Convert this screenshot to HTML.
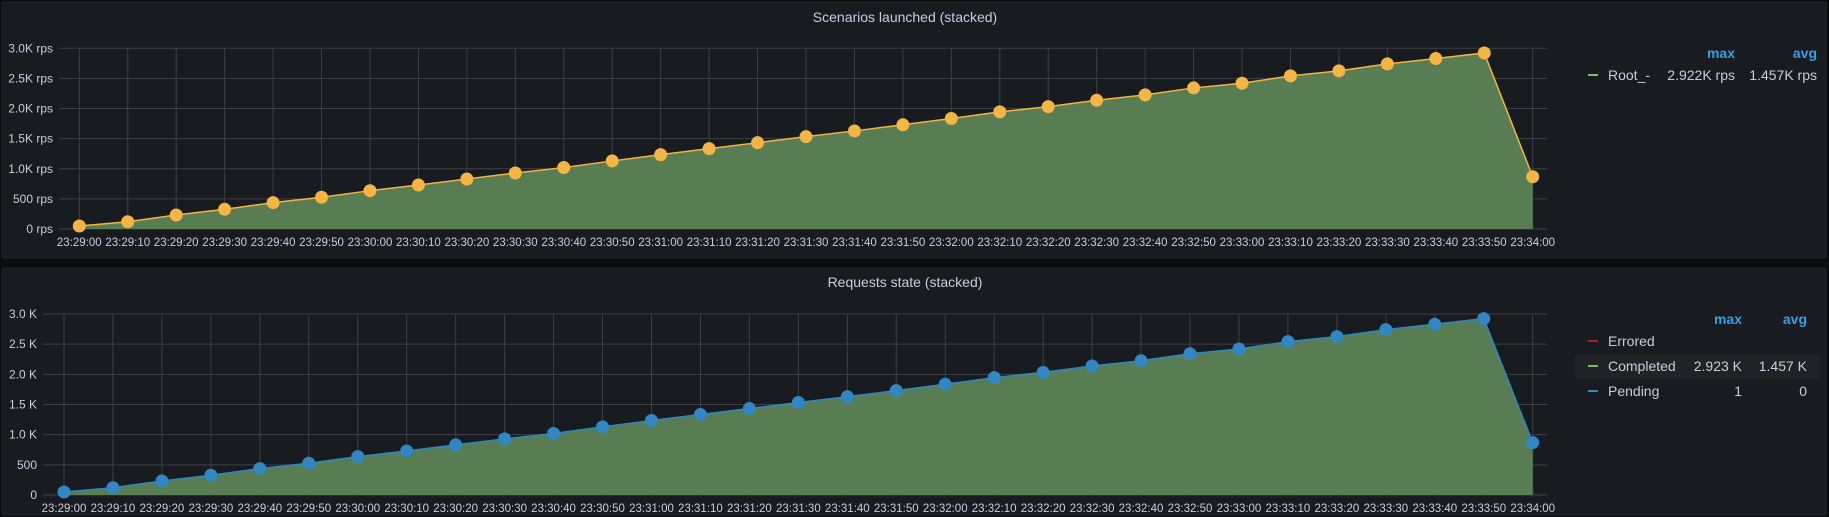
<!DOCTYPE html>
<html><head><meta charset="utf-8"><style>
html,body{margin:0;padding:0;background:#0b0c0e;width:1829px;height:517px;overflow:hidden;font-family:"Liberation Sans",sans-serif;}
svg{position:absolute;left:0;top:0}
</style></head><body>
<svg id="s" width="1829" height="517"></svg>
<script>
const times=["23:29:00","23:29:10","23:29:20","23:29:30","23:29:40","23:29:50","23:30:00","23:30:10","23:30:20","23:30:30","23:30:40","23:30:50","23:31:00","23:31:10","23:31:20","23:31:30","23:31:40","23:31:50","23:32:00","23:32:10","23:32:20","23:32:30","23:32:40","23:32:50","23:33:00","23:33:10","23:33:20","23:33:30","23:33:40","23:33:50","23:34:00"];
const scenarios=[50,121,232,327,437,527,636,730,830,930,1020,1130,1235,1334,1433,1533,1628,1730,1835,1945,2032,2138,2226,2342,2420,2542,2625,2741,2830,2922,868];
const completed=[50,121,232,327,437,527,636,730,830,930,1020,1130,1235,1334,1433,1533,1628,1730,1835,1945,2032,2138,2226,2342,2420,2542,2625,2741,2830,2923,868];
const pending=[0,0,0,0,0,0,0,0,0,0,0,0,0,0,0,0,0,0,0,0,0,0,0,0,0,0,0,0,0,1,0];
const errored=[0,0,0,0,0,0,0,0,0,0,0,0,0,0,0,0,0,0,0,0,0,0,0,0,0,0,0,0,0,0,0];
const yTicks=[0,500,1000,1500,2000,2500,3000];
const yLabelsTop=["0 rps","500 rps","1.0K rps","1.5K rps","2.0K rps","2.5K rps","3.0K rps"];
const yLabelsBot=["0","500","1.0 K","1.5 K","2.0 K","2.5 K","3.0 K"];
const NS="http://www.w3.org/2000/svg";
const svg=document.getElementById('s');
function el(t,a,p){const e=document.createElementNS(NS,t);for(const k in a)e.setAttribute(k,a[k]);(p||svg).appendChild(e);return e;}
function txt(s,a,p){const e=el('text',a,p);e.textContent=s;return e;}
function panel(cfg){
  const g=el('g',{});
  
  
  const bg=el('rect',{x:cfg.px,y:cfg.py,width:cfg.pw,height:cfg.ph,fill:'#181b1f',stroke:'#23252b','stroke-width':1,rx:2},g);
  
  
  const t=txt(cfg.title,{x:905,y:cfg.ty,fill:'#ccccdc','font-size':14,'text-anchor':'middle','font-weight':'500'},g);
  
  
  const X=i=>cfg.x0+(cfg.x1-cfg.x0)*i/(times.length-1);
  const Y=v=>cfg.y0-(cfg.y0-cfg.y3)*v/3000;
  yTicks.forEach((v,i)=>{
    const l=el('line',{x1:cfg.gl,x2:1547,y1:Y(v),y2:Y(v),stroke:'#3f4147','stroke-width':1},g);
    
    
    const tl=txt(cfg.ylab[i],{x:cfg.gl-6,y:Y(v)+4,fill:'#ccccdc','font-size':12,'text-anchor':'end'},g);
    
    
  });
  times.forEach((s,i)=>{
    const l=el('line',{x1:X(i),x2:X(i),y1:cfg.y3,y2:cfg.y0,stroke:'#3f4147','stroke-width':1},g);
    
    
    const tl=txt(s,{x:X(i),y:cfg.y0+17,fill:'#ccccdc','font-size':11.5,'text-anchor':'middle'},g);
    
    
  });
  const vals=cfg.vals;
  let d='M'+X(0)+','+Y(0);
  vals.forEach((v,i)=>d+=' L'+X(i)+','+Y(v));
  d+=' L'+X(vals.length-1)+','+Y(0)+'Z';
  const a=el('path',{d:d,fill:'#5b8155','fill-opacity':0.97},g);
  
  
  const pts=vals.map((v,i)=>X(i)+','+Y(v)).join(' ');
  const ln=el('polyline',{points:pts,fill:'none',stroke:cfg.color,'stroke-width':1.5},g);
  
  
  vals.forEach((v,i)=>{
    const c=el('circle',{cx:X(i),cy:Y(v),r:6.5,fill:cfg.color},g);
    
    
  });
  return g;
}
panel({name:'scenarios-panel',px:2,py:2,pw:1824,ph:256,ty:22,title:'Scenarios launched (stacked)',x0:79.3,x1:1532.7,y0:229,y3:48.3,gl:59,ylab:yLabelsTop,vals:scenarios,color:'#f4b543'});
const comb=completed.map((v,i)=>v+pending[i]+errored[i]);
panel({name:'requests-panel',px:2,py:268,pw:1824,ph:247,ty:287,title:'Requests state (stacked)',x0:64,x1:1532.7,y0:495,y3:314,gl:43,ylab:yLabelsBot,vals:comb,color:'#3187c4'});
function leg(s,x,y,a){return txt(s,Object.assign({x:x,y:y,'font-size':14},a));}
let h;
h=leg('max',1735,58,{fill:'#33a2e5','font-weight':'bold','text-anchor':'end'});
h=leg('avg',1817,58,{fill:'#33a2e5','font-weight':'bold','text-anchor':'end'});
h=el('rect',{x:1588,y:74,width:10,height:2,fill:'#73bf69'});
h=leg('Root_-',1608,80,{fill:'#ccccdc'});
h=leg('2.922K rps',1735,80,{fill:'#ccccdc','text-anchor':'end'});
h=leg('1.457K rps',1817,80,{fill:'#ccccdc','text-anchor':'end'});
h=leg('max',1742,324,{fill:'#33a2e5','font-weight':'bold','text-anchor':'end'});
h=leg('avg',1807,324,{fill:'#33a2e5','font-weight':'bold','text-anchor':'end'});
h=el('rect',{x:1575,y:354,width:245,height:25,fill:'#202226'});
const rows=[['Errored','#c4162a','',''],['Completed','#73bf69','2.923 K','1.457 K'],['Pending','#3187c4','1','0']];
rows.forEach((r,i)=>{
  const y=346+i*25;
  const sw=el('rect',{x:1588,y:y-6,width:10,height:2,fill:r[1]});
  
  
  const n=leg(r[0],1608,y,{fill:'#ccccdc'});
  
  
  const m=leg(r[2],1742,y,{fill:'#ccccdc','text-anchor':'end'});
  
  
  const av=leg(r[3],1807,y,{fill:'#ccccdc','text-anchor':'end'});
  
  
});
</script>
</body></html>
